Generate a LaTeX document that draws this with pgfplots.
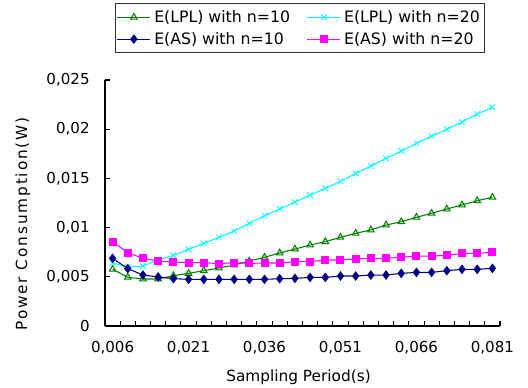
\documentclass[border=0pt]{standalone}
\usepackage{pgfplots}
\pgfplotsset{compat=1.18}
\usepackage{fontspec}
\setmainfont{DejaVu Sans}
\definecolor{cgreen}{RGB}{0,128,0}
\definecolor{ccyan}{RGB}{0,255,255}
\definecolor{cnavy}{RGB}{0,0,128}
\definecolor{cpink}{RGB}{255,0,255}
\newcommand{\tickfont}{\fontsize{11.3}{13}\selectfont}
\newcommand{\legfont}{\fontsize{11.8}{13}\selectfont}
\newcommand{\labfont}{\fontsize{11.5}{13}\selectfont}
\begin{document}
\begin{tikzpicture}
\begin{axis}[
  at={(0,0)}, anchor=south west,
  scale only axis,
  width=296.25pt, height=184.5pt,
  xmin=-0.5, xmax=25.5,
  ymin=0, ymax=0.025,
  axis x line*=bottom, axis y line*=left,
  axis line style={-, black, line width=0.8pt},
  tick align=inside,
  xtick={0,5,10,15,20,25},
  xticklabels={{0,006},{0,021},{0,036},{0,051},{0,066},{0,081}},
  minor xtick={-0.5,0.5,...,25.5},
  major x tick style={draw=none},
  minor tick length=3.5pt,
  major tick length=3.5pt,
  every tick/.style={black, line width=0.8pt},
  ytick={0,0.005,0.01,0.015,0.02,0.025},
  yticklabels={0,{0,005},{0,01},{0,015},{0,02},{0,025}},
  scaled y ticks=false,
  tick label style={font=\tickfont},
  xticklabel style={yshift=-8pt},
  yticklabel style={xshift=-8pt},
  xlabel={Sampling Period(s)},
  ylabel={Power Consumption(W)},
  every axis x label/.style={at={(axis description cs:0.49,0)}, anchor=north, yshift=-29pt, font=\labfont},
  every axis y label/.style={at={(axis description cs:-0.2076,0.415)}, rotate=90, anchor=center, font=\labfont\addfontfeature{LetterSpace=12}},
  legend columns=2,
  legend cell align=left,
  legend style={at={(axis description cs:0.0253,1.313)}, anchor=north west,
    draw=black!80, line width=0.8pt, fill=white,
    font=\legfont,
    nodes={font=\legfont, inner xsep=2.5pt, inner ysep=3pt},
    inner xsep=1pt, inner ysep=2pt,
    row sep=0pt,
    /tikz/every even column/.style={column sep=10pt}},
  legend image code/.code={\draw[mark repeat=2,mark phase=2] plot coordinates {(0cm,0cm)(0.435cm,0cm)(0.87cm,0cm)};},
  clip=false,
]
\addplot[cgreen, line width=0.8pt, mark=triangle, mark size=2.8pt, mark options={solid, line width=0.8pt}] coordinates {
(0,0.00576)(1,0.00495)(2,0.00478)(3,0.00478)(4,0.00511)(5,0.00535)(6,0.00562)(7,0.00589)(8,0.00620)(9,0.00660)
(10,0.00698)(11,0.00742)(12,0.00782)(13,0.00823)(14,0.00857)(15,0.00901)(16,0.00942)(17,0.00976)(18,0.01026)(19,0.01060)
(20,0.01105)(21,0.01145)(22,0.01189)(23,0.01230)(24,0.01273)(25,0.01308)};
\addlegendentry{E(LPL) with n=10}
\addplot[ccyan, line width=0.8pt, mark=x, mark size=3pt, mark options={solid, line width=0.6pt}] coordinates {
(0,0.00640)(1,0.00600)(2,0.00610)(3,0.00671)(4,0.00718)(5,0.00779)(6,0.00840)(7,0.00901)(8,0.00965)(9,0.01043)
(10,0.01121)(11,0.01189)(12,0.01258)(13,0.01331)(14,0.01399)(15,0.01470)(16,0.01550)(17,0.01626)(18,0.01704)(19,0.01778)
(20,0.01856)(21,0.01930)(22,0.01999)(23,0.02073)(24,0.02154)(25,0.02222)};
\addlegendentry{E(LPL) with n=20}
\addplot[cnavy, line width=0.8pt, mark=diamond*, mark size=3pt, mark options={solid}] coordinates {
(0,0.00688)(1,0.00583)(2,0.00518)(3,0.00498)(4,0.00481)(5,0.00474)(6,0.00474)(7,0.00474)(8,0.00474)(9,0.00474)
(10,0.00474)(11,0.00481)(12,0.00484)(13,0.00494)(14,0.00494)(15,0.00508)(16,0.00508)(17,0.00518)(18,0.00518)(19,0.00535)
(20,0.00545)(21,0.00545)(22,0.00562)(23,0.00576)(24,0.00576)(25,0.00586)};
\addlegendentry{E(AS) with n=10}
\addplot[cpink, line width=0.8pt, mark=square*, mark size=2.6pt, mark options={solid}] coordinates {
(0,0.00857)(1,0.00745)(2,0.00688)(3,0.00660)(4,0.00650)(5,0.00644)(6,0.00644)(7,0.00634)(8,0.00644)(9,0.00637)
(10,0.00640)(11,0.00640)(12,0.00654)(13,0.00654)(14,0.00671)(15,0.00671)(16,0.00681)(17,0.00688)(18,0.00688)(19,0.00698)
(20,0.00711)(21,0.00711)(22,0.00718)(23,0.00738)(24,0.00738)(25,0.00749)};
\addlegendentry{E(AS) with n=20}
\end{axis}
\pgfresetboundingbox
\path[use as bounding box] (-78.75pt,-45.75pt) rectangle (317.25pt,244.5pt);
\end{tikzpicture}
\end{document}
